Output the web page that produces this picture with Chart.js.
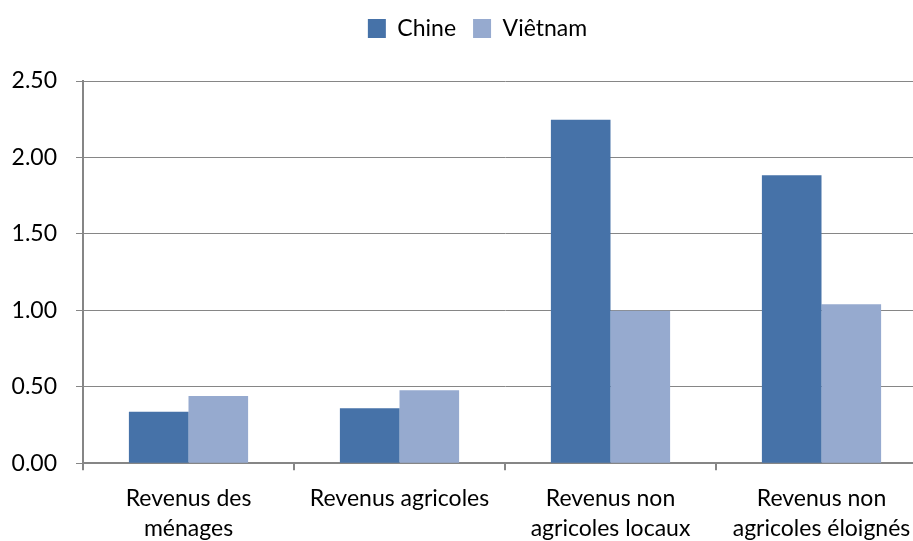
<!DOCTYPE html>
<html>
<head>
<meta charset="utf-8">
<script src="https://cdn.jsdelivr.net/npm/chart.js@4/dist/chart.umd.min.js"></script>
<style>
  html, body { margin: 0; padding: 0; background: #fff; overflow: hidden; width: 913px; height: 541px; }
  #wrap { position: absolute; left: 0; top: 0; }
</style>
</head>
<body>
<div id="wrap"><canvas id="chart" width="940" height="557"></canvas></div>
<script>
const categories = [
    ['Revenus des', 'ménages'],
    'Revenus agricoles',
    ['Revenus non', 'agricoles locaux'],
    ['Revenus non', 'agricoles éloignés']
];
const chineValues = [0.337, 0.36, 2.246, 1.883];
const vietnamValues = [0.44, 0.477, 0.998, 1.04];
const yTicks = [0, 0.5, 1, 1.5, 2, 2.5];

const fontFamily = 'Lato, "Open Sans", sans-serif';

// extra room under the legend, and nudge it right like the original
const legendSpacer = {
    id: 'legendSpacer',
    afterInit(chart) {
        const legend = chart.legend;
        const fit = legend.fit;
        const draw = legend.draw;
        legend.fit = function () {
            fit.call(this);
            this.height += 31;
        };
        legend.draw = function () {
            this.ctx.save();
            this.ctx.translate(14, 0);
            draw.call(this);
            this.ctx.restore();
        };
    }
};

new Chart(document.getElementById('chart').getContext('2d'), {
    type: 'bar',
    data: {
        labels: categories,
        datasets: [
            { label: 'Chine', data: chineValues, backgroundColor: '#4672A8', borderWidth: 0 },
            { label: 'Viêtnam', data: vietnamValues, backgroundColor: '#96AACF', borderWidth: 0 }
        ]
    },
    plugins: [legendSpacer],
    options: {
        responsive: false,
        devicePixelRatio: 1,
        animation: false,
        layout: { padding: { top: 0, right: 13, left: 0, bottom: 0 } },
        datasets: { bar: { categoryPercentage: 0.565, barPercentage: 1.0 } },
        plugins: {
            tooltip: { enabled: false },
            legend: {
                position: 'top',
                labels: {
                    boxWidth: 18,
                    boxHeight: 19,
                    padding: 17,
                    color: '#000',
                    font: { family: fontFamily, size: 23 }
                }
            }
        },
        scales: {
            x: {
                grid: { display: true, drawOnChartArea: false, drawTicks: true, tickLength: 7, color: '#868686', lineWidth: 2 },
                border: { display: true, color: '#868686', width: 2 },
                ticks: {
                    color: '#000',
                    maxRotation: 0,
                    autoSkip: false,
                    padding: 13,
                    font: { family: fontFamily, size: 23, lineHeight: 1.32 }
                }
            },
            y: {
                min: 0,
                max: 2.5,
                afterFit: scale => { scale.width = 83; },
                afterBuildTicks: scale => { scale.ticks = yTicks.map(v => ({ value: v })); },
                grid: { color: '#868686', lineWidth: 1, tickLength: 7 },
                border: { display: true, color: '#868686', width: 2 },
                ticks: {
                    color: '#000',
                    padding: 19,
                    font: { family: fontFamily, size: 23 },
                    callback: v => v.toFixed(2)
                }
            }
        }
    }
});
</script>
</body>
</html>
